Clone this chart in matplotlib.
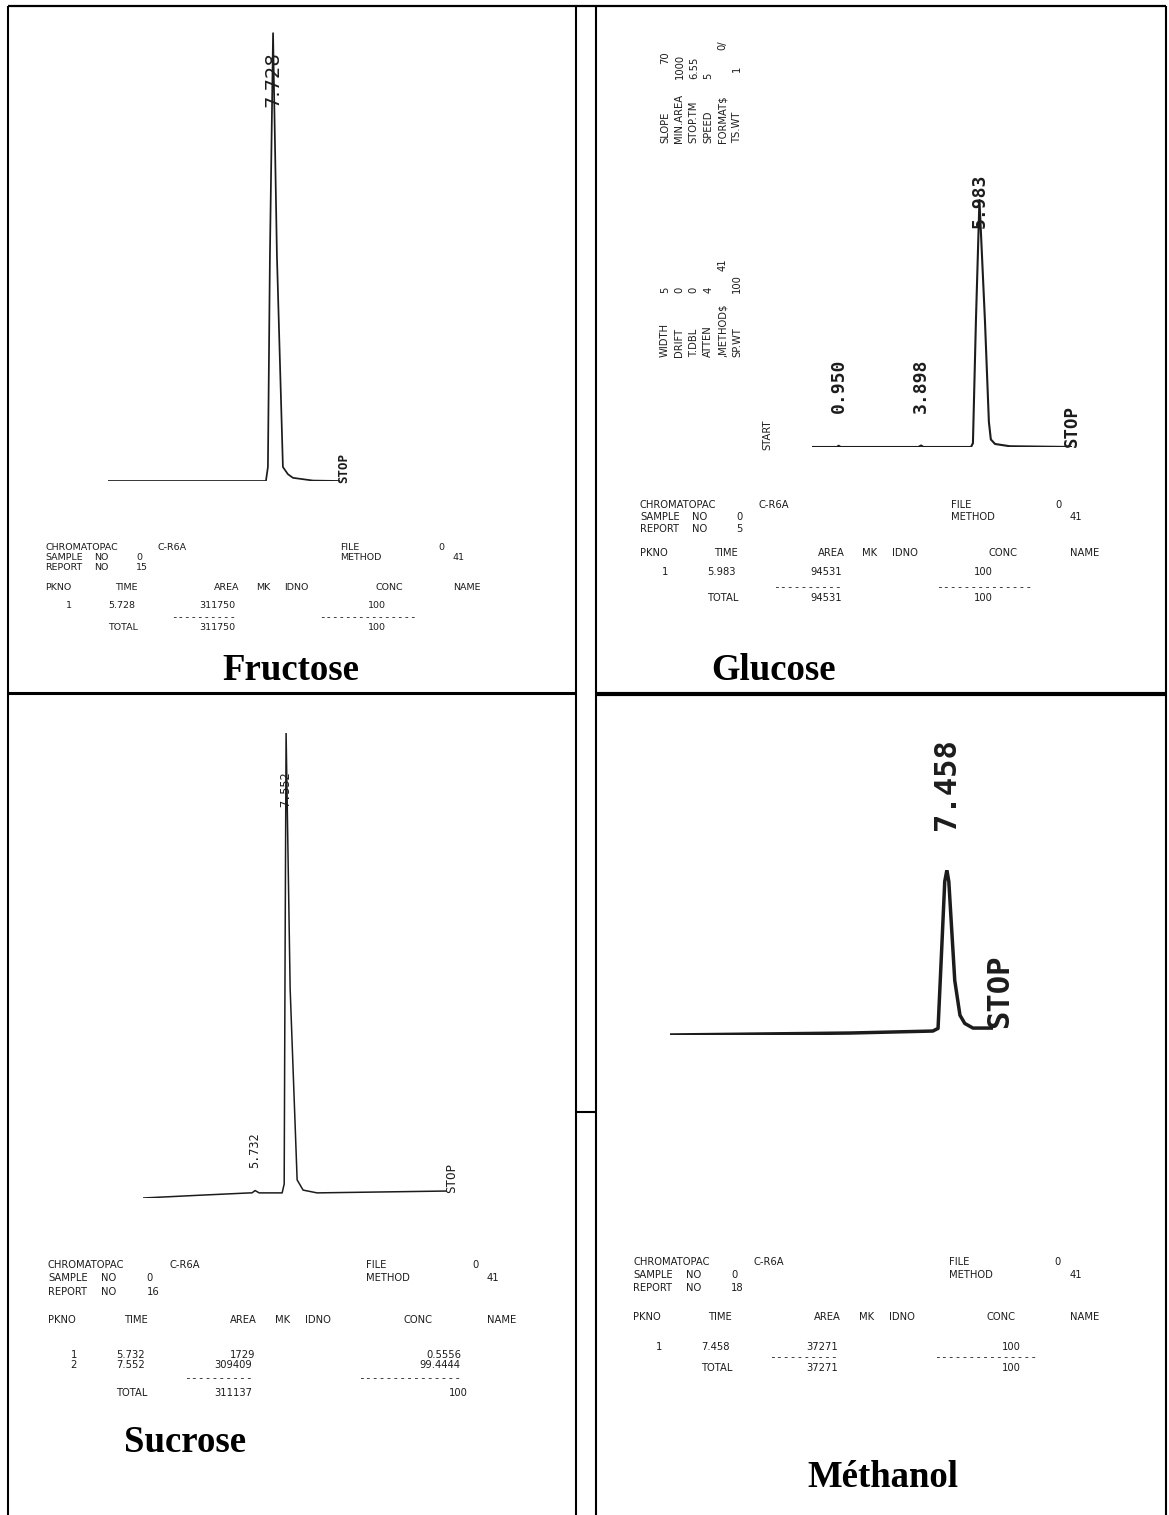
import re
import matplotlib
matplotlib.use("Agg")
import matplotlib.pyplot as plt

W, H = 1169, 1515
INK = "#1c1c1c"
MONO = "DejaVu Sans Mono"
SANS = "DejaVu Sans"
SERIF = "Liberation Serif"

compounds = ["Fructose", "Glucose", "Sucrose", "Méthanol"]
report_nos = [15, 5, 16, 18]

# integration reports (retention time, area, concentration)
fru_times = ["5.728"]
fru_areas = [311750]
fru_conc = ["100"]
fru_total = (311750, "100")

glu_times = ["5.983"]
glu_areas = [94531]
glu_conc = ["100"]
glu_total = (94531, "100")

suc_times = ["5.732", "7.552"]
suc_areas = [1729, 309409]
suc_conc = ["0.5556", "99.4444"]
suc_total = (311137, "100")

met_times = ["7.458"]
met_areas = [37271]
met_conc = ["100"]
met_total = (37271, "100")

# detector traces: time (min) vs signal (% of full scale)
fru_t = [1.83, 7.473, 7.544, 7.616, 7.728, 7.866, 8.08, 8.26, 8.44, 9.15, 10.12]
fru_s = [0, 0, 3.1, 50, 99.3, 50, 3.1, 1.5, 0.7, 0.1, 0]

glu_t = [0.0, 0.90, 0.95, 1.02, 3.80, 3.898, 3.98, 5.68, 5.75, 5.857, 5.983,
         6.18, 6.32, 6.39, 6.54, 7.07, 9.29]
glu_s = [0, 0, 0.5, 0, 0, 0.6, 0, 0, 1.5, 50, 98, 50, 10, 3, 1.2, 0.3, 0]

suc_t = [-0.85, 2.50, 5.44, 5.55, 5.732, 5.97, 7.32, 7.44, 7.49, 7.552, 7.79,
         8.20, 8.55, 9.37, 17.0]
suc_s = [0, 0.6, 1.1, 1.1, 1.6, 1.1, 1.1, 3, 50, 100, 45, 3.9, 1.7, 1.1, 1.5]

met_t = [0.0, 2.42, 4.85, 7.08, 7.22, 7.32, 7.40, 7.458, 7.51, 7.67, 7.81,
         7.94, 8.16, 8.70]
met_s = [0, 0.6, 1.2, 2.4, 4, 53, 93, 100, 93, 33, 12, 7, 4.2, 4.2]

# peak marks printed above the trace
fru_marks = [7.728]
glu_marks = [0.950, 3.898, 5.983]
suc_marks = [5.732, 7.552]
met_marks = [7.458]

# parameter listing printed sideways on the glucose run
glu_params_a = ["SLOPE      70", "MIN.AREA 1000", "STOP.TM  6.55",
                "SPEED    5", "FORMAT$      0/", "TS.WT     1"]
glu_params_b = ["WIDTH    5", "DRIFT    0", "T.DBL    0", "ATTEN    4",
                ",METHOD$    41", "SP.WT    100"]


def typeset(ax, x, y, line, pitch, size, vertical=False, family=SANS, **kw):
    """Place each word of a printer line on its character column."""
    for m in re.finditer(r"\S+", line):
        off = m.start() * pitch
        if vertical:
            ax.text(x, y - off, m.group(), rotation=90, ha="center", va="bottom",
                    family=family, fontsize=size, color=INK, **kw)
        else:
            ax.text(x + off, y, m.group(), ha="left", va="center",
                    family=family, fontsize=size, color=INK, **kw)


def report(ax, x0, ys, pitch, size, report_no, times, areas, concs, total,
           conc_end, conc_dash):
    y1, y2, y3, yh, yr, dy, yd, yt = ys
    typeset(ax, x0, y1, f"{'CHROMATOPAC':<16}{'C-R6A':<26}{'FILE':<14}0", pitch, size)
    typeset(ax, x0, y2, f"{'SAMPLE NO':<13}{'0':<29}{'METHOD':<16}41", pitch, size)
    typeset(ax, x0, y3, f"{'REPORT NO':<13}{report_no}", pitch, size)
    typeset(ax, x0, yh, f"{'PKNO':<10}{'TIME':<14}{'AREA':<6}{'MK':<4}{'IDNO':<13}{'CONC':<11}NAME",
            pitch, size)
    for i, (tm, area, conc) in enumerate(zip(times, areas, concs)):
        line = f"{'':3}{i + 1:<6}{tm:<9}{area:>10}"
        line = line.ljust(conc_end - len(conc)) + conc
        typeset(ax, x0, yr + i * dy, line, pitch, size)
    dash = (" " * 18 + "-" * 10).ljust(conc_dash[0]) + "-" * (conc_dash[1] - conc_dash[0])
    typeset(ax, x0, yd, dash, pitch, size + 1, family=MONO)
    line = f"{'':9}{'TOTAL':<9}{total[0]:>10}"
    line = line.ljust(conc_end - len(total[1])) + total[1]
    typeset(ax, x0, yt, line, pitch, size)


def panel_axes(fig, x0, x1, y_base, y_top, xlim, ylim=(0, 100)):
    ax = fig.add_axes([x0 / W, 1 - y_base / H, (x1 - x0) / W, (y_base - y_top) / H])
    ax.set_xlim(*xlim)
    ax.set_ylim(*ylim)
    ax.axis("off")
    return ax


fig = plt.figure(figsize=(W / 100, H / 100), dpi=100)
fig.patch.set_facecolor("white")

# chromatograms
ax_fru = panel_axes(fig, 108, 340, 481, 30, (1.83, 10.12))
ax_fru.plot(fru_t, fru_s, color=INK, lw=1.25, solid_joinstyle="round")
for t in fru_marks:
    ax_fru.text(t, 83, f"{t:.3f}", rotation=90, ha="center", va="bottom",
                family=SANS, fontsize=14, color=INK, clip_on=False)
ax_fru.text(10.26, -0.4, "STOP", rotation=90, ha="center", va="bottom",
            family=MONO, fontsize=9, weight="bold", color=INK, clip_on=False)

ax_glu = panel_axes(fig, 812, 1072, 447, 195, (0, 9.29))
ax_glu.plot(glu_t, glu_s, color=INK, lw=1.5, solid_joinstyle="round")
for t, y in zip(glu_marks, [13.5, 13.5, 87]):
    ax_glu.text(t, y, f"{t:.3f}", rotation=90, ha="center", va="bottom",
                family=MONO, fontsize=13, weight="bold", color=INK, clip_on=False)
ax_glu.text(9.29, 0, "STOP", rotation=90, ha="center", va="bottom",
            family=MONO, fontsize=12.5, weight="bold", color=INK, clip_on=False)
ax_glu.text(-1.6, -1, "START", rotation=90, ha="center", va="bottom",
            family=SANS, fontsize=7.2, color=INK, clip_on=False)

ax_suc = panel_axes(fig, 143, 447, 1198, 733, (-0.85, 17.0))
ax_suc.plot(suc_t, suc_s, color=INK, lw=1.1, solid_joinstyle="round")
for t, y in zip(suc_marks, [6.5, 84]):
    ax_suc.text(t, y, f"{t:.3f}", rotation=90, ha="center", va="bottom",
                family=MONO, fontsize=8.6, color=INK, clip_on=False)
ax_suc.text(17.3, 1, "STOP", rotation=90, ha="center", va="bottom",
            family=MONO, fontsize=9, color=INK, clip_on=False)

ax_met = panel_axes(fig, 670, 993, 1035, 870, (0, 8.70))
ax_met.plot(met_t, met_s, color=INK, lw=2.5, solid_joinstyle="round")
for t in met_marks:
    ax_met.text(t, 124, f"{t:.3f}", rotation=90, ha="center", va="bottom",
                family=MONO, fontsize=22, weight="bold", color=INK, clip_on=False)
ax_met.text(8.89, 4.2, "STOP", rotation=90, ha="center", va="bottom",
            family=MONO, fontsize=22, weight="bold", color=INK, clip_on=False)

# page overlay: table rules, reports, captions
ov = fig.add_axes([0, 0, 1, 1])
ov.set_xlim(0, W)
ov.set_ylim(H, 0)
ov.axis("off")

ov.hlines(6, 8, 1166, color="black", lw=1.6)
ov.vlines([8, 576, 596, 1166], 6, H, color="black", lw=1.5)
ov.hlines(693, 8, 576, color="black", lw=2.2)
ov.hlines(694, 596, 1166, color="black", lw=3.0)
ov.hlines(1112, 576, 596, color="black", lw=1.5)

report(ov, 45, [547, 557, 567, 588, 606, 10, 617, 628], 7.03, 6.8, report_nos[0],
       fru_times, fru_areas, fru_conc, fru_total, 49, (39, 54))
report(ov, 640, [505, 517, 529, 553, 572, 10, 587, 598], 7.41, 7.2, report_nos[1],
       glu_times, glu_areas, glu_conc, glu_total, 48, (40, 54))
report(ov, 48, [1265, 1278, 1292, 1320, 1355, 10, 1378, 1393], 7.57, 7.2, report_nos[2],
       suc_times, suc_areas, suc_conc, suc_total, 56, (41, 56))
report(ov, 633, [1262, 1275, 1288, 1317, 1347, 10, 1357, 1368], 7.53, 7.2, report_nos[3],
       met_times, met_areas, met_conc, met_total, 52, (40, 55))

for i, line in enumerate(glu_params_a):
    typeset(ov, 665 + 14.4 * i, 143, line, 7.15, 7.2, vertical=True)
for i, line in enumerate(glu_params_b):
    typeset(ov, 665 + 14.4 * i, 357, line, 7.15, 7.2, vertical=True)

title_pos = [(291, 680), (774, 680), (185, 1452), (883, 1487)]
for name, (x, y) in zip(compounds, title_pos):
    ov.text(x, y, name, ha="center", va="baseline", family=SERIF,
            weight="bold", fontsize=26.5, color="black")

fig.savefig("out.png", dpi=100)
